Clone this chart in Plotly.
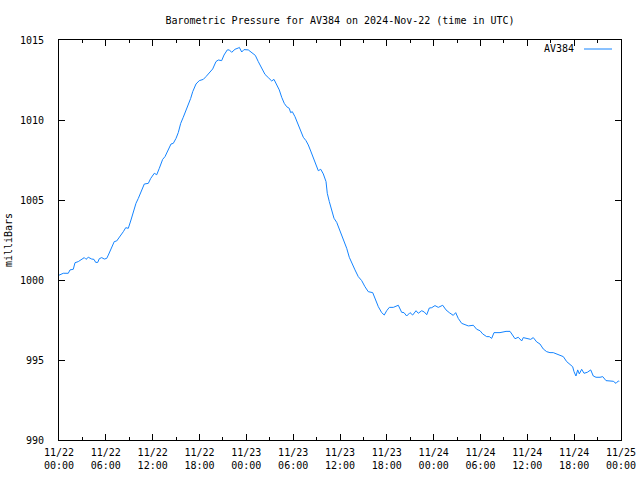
import pandas as pd
import plotly.graph_objects as go

# Hours since 2024-11-22 00:00 UTC
hours = [0.0, 0.55, 1.19, 1.41, 1.83, 2.05, 2.47, 2.91, 3.24, 3.46, 3.75, 4.19, 4.48, 4.70, 4.96,
         5.16, 5.47, 5.80, 6.11, 6.32, 6.75, 7.08, 7.39, 7.81, 8.24, 8.55, 8.88, 9.22, 9.52, 9.86,
         10.16, 10.50, 10.93, 11.44, 11.75, 12.21, 12.52, 12.85, 13.28, 13.58, 14.00, 14.35, 14.64,
         14.99, 15.28, 15.59, 15.92, 16.27, 16.56, 16.87, 17.13, 17.55, 17.97, 18.49, 18.83, 19.25,
         19.69, 20.11, 20.41, 20.84, 21.14, 21.56, 21.82, 22.12, 22.55, 22.97, 23.10, 23.41, 23.70,
         24.25, 24.81, 25.15, 25.53, 25.97, 26.39, 26.81, 27.25, 27.54, 27.89, 28.22, 28.53, 28.86,
         29.17, 29.50, 29.68, 29.89, 30.23, 30.53, 30.87, 31.30, 31.64, 31.94, 32.25, 32.58, 32.92,
         33.22, 33.53, 33.86, 34.21, 34.37, 34.63, 34.94, 35.23, 35.58, 36.00, 36.42, 36.86, 37.19,
         37.50, 37.92, 38.34, 38.78, 39.20, 39.62, 40.19, 40.48, 40.91, 41.34, 41.67, 41.98, 42.32,
         42.83, 43.47, 43.90, 44.20, 44.54, 44.97, 45.31, 45.74, 46.03, 46.47, 46.80, 47.11, 47.44,
         47.75, 48.17, 48.59, 49.16, 49.58, 50.00, 50.51, 50.82, 51.15, 51.59, 52.01, 52.44, 53.08,
         53.51, 53.94, 54.28, 54.79, 55.13, 55.43, 55.73, 56.50, 57.27, 57.78, 58.12, 58.42, 58.84,
         59.28, 59.48, 59.92, 60.43, 60.76, 61.20, 61.62, 62.04, 62.48, 62.90, 63.32, 63.76, 64.18,
         64.61, 65.04, 65.47, 65.81, 65.98, 66.23, 66.45, 66.66, 66.96, 67.26, 67.68, 68.12, 68.45,
         68.80, 69.31, 69.66, 70.08, 70.59, 71.01, 71.36, 71.65, 71.78]

pressure = [1000.30, 1000.42, 1000.42, 1000.63, 1000.67, 1001.08, 1001.15, 1001.29, 1001.40, 1001.29,
            1001.42, 1001.31, 1001.29, 1001.10, 1001.10, 1001.33, 1001.40, 1001.31, 1001.35, 1001.56,
            1001.98, 1002.40, 1002.44, 1002.71, 1003.02, 1003.27, 1003.23, 1003.75, 1004.27, 1004.79,
            1005.10, 1005.52, 1006.00, 1006.04, 1006.35, 1006.67, 1006.58, 1006.98, 1007.54, 1007.71,
            1008.13, 1008.50, 1008.54, 1008.85, 1009.21, 1009.79, 1010.17, 1010.58, 1010.94, 1011.35,
            1011.77, 1012.25, 1012.46, 1012.54, 1012.71, 1012.92, 1013.19, 1013.65, 1013.75, 1013.71,
            1014.06, 1014.38, 1014.38, 1014.23, 1014.42, 1014.50, 1014.54, 1014.25, 1014.40, 1014.38,
            1014.13, 1014.04, 1013.65, 1013.23, 1012.85, 1012.65, 1012.44, 1012.54, 1012.23, 1011.88,
            1011.42, 1011.04, 1010.83, 1010.73, 1010.46, 1010.52, 1010.21, 1009.83, 1009.38, 1008.92,
            1008.71, 1008.44, 1008.06, 1007.60, 1007.13, 1006.83, 1006.92, 1006.63, 1006.15, 1005.42,
            1004.90, 1004.27, 1003.86, 1003.60, 1003.08, 1002.54, 1001.98, 1001.42, 1001.04, 1000.63,
            1000.21, 999.96, 999.58, 999.27, 999.21, 998.85, 998.33, 997.96, 997.81, 998.08,
            998.29, 998.29, 998.42, 997.98, 997.96, 997.75, 997.96, 997.81, 998.08, 997.92,
            998.08, 998.00, 997.83, 998.25, 998.27, 998.40, 998.29, 998.42, 998.13, 997.96,
            997.79, 997.96, 997.60, 997.29, 997.23, 997.13, 997.17, 996.92, 996.83, 996.63,
            996.46, 996.46, 996.35, 996.71, 996.71, 996.79, 996.79, 996.50, 996.33, 996.42,
            996.19, 996.40, 996.35, 996.29, 996.40, 996.13, 996.00, 995.69, 995.52, 995.46,
            995.46, 995.38, 995.31, 995.21, 994.90, 994.69, 994.58, 994.27, 994.00, 994.38,
            994.13, 994.42, 994.17, 994.23, 994.38, 994.00, 993.92, 993.92, 993.96, 993.71,
            993.67, 993.67, 993.54, 993.69, 993.67]

tick_hours = [0, 6, 12, 18, 24, 30, 36, 42, 48, 54, 60, 66, 72]
tick_labels = ["11/22<br>00:00", "11/22<br>06:00", "11/22<br>12:00", "11/22<br>18:00",
               "11/23<br>00:00", "11/23<br>06:00", "11/23<br>12:00", "11/23<br>18:00",
               "11/24<br>00:00", "11/24<br>06:00", "11/24<br>12:00", "11/24<br>18:00",
               "11/25<br>00:00"]
y_ticks = [990, 995, 1000, 1005, 1010, 1015]

start = pd.Timestamp("2024-11-22 00:00")
times = [start + pd.Timedelta(hours=h) for h in hours]
tick_times = [start + pd.Timedelta(hours=h) for h in tick_hours]

FONT = "DejaVu Sans Mono"
LINE_COLOR = "#1484ff"

fig = go.Figure()
fig.add_trace(go.Scatter(x=times, y=pressure, mode="lines",
                         line=dict(color=LINE_COLOR, width=1), name="AV384",
                         showlegend=False))

fig.update_layout(
    width=640, height=480,
    margin=dict(l=59, r=19, t=40, b=40, pad=0, autoexpand=False),
    paper_bgcolor="white", plot_bgcolor="white",
    font=dict(family=FONT, size=10, color="black"),
    title=dict(text="Barometric Pressure for AV384 on 2024-Nov-22 (time in UTC)",
               x=0.5, xref="paper", xanchor="center",
               y=1 - 20 / 480, yref="container", yanchor="middle",
               automargin=False,
               font=dict(family=FONT, size=10, color="black")),
    xaxis=dict(type="date", range=[tick_times[0], tick_times[-1]],
               tickmode="array", tickvals=tick_times, ticktext=tick_labels,
               ticks="inside", ticklen=6, tickcolor="black", tickwidth=1,
               minor=dict(dtick=3 * 3600 * 1000, ticks="inside", ticklen=3,
                          tickcolor="black", showgrid=False),
               showline=True, linecolor="black", linewidth=1, mirror="ticks",
               showgrid=False, zeroline=False, tickangle=0, automargin=False,
               ticklabelstandoff=3),
    yaxis=dict(range=[990, 1015], tickmode="array", tickvals=y_ticks,
               ticktext=[str(v) for v in y_ticks],
               ticks="inside", ticklen=6, tickcolor="black", tickwidth=1,
               showline=True, linecolor="black", linewidth=1, mirror="ticks",
               showgrid=False, zeroline=False, ticklabelstandoff=12,
               automargin=False,
               title=dict(text="milliBars", standoff=5,
                          font=dict(family=FONT, size=10))),
)

# Legend (gnuplot style: key text followed by line sample)
fig.add_annotation(x=(576 - 59) / 562, y=(440 - 49) / 400, xref="paper", yref="paper",
                   text="AV384", showarrow=False, xanchor="right", yanchor="middle",
                   font=dict(family=FONT, size=10, color="black"))
fig.add_shape(type="line", xref="paper", yref="paper",
              x0=(584 - 59) / 562, x1=(612 - 59) / 562,
              y0=(440 - 49) / 400, y1=(440 - 49) / 400,
              line=dict(color=LINE_COLOR, width=1))

fig.write_html("out.html",
               config={"displayModeBar": False},
               post_script="document.body.style.margin='0px';"
                           "document.body.style.overflow='hidden';")
